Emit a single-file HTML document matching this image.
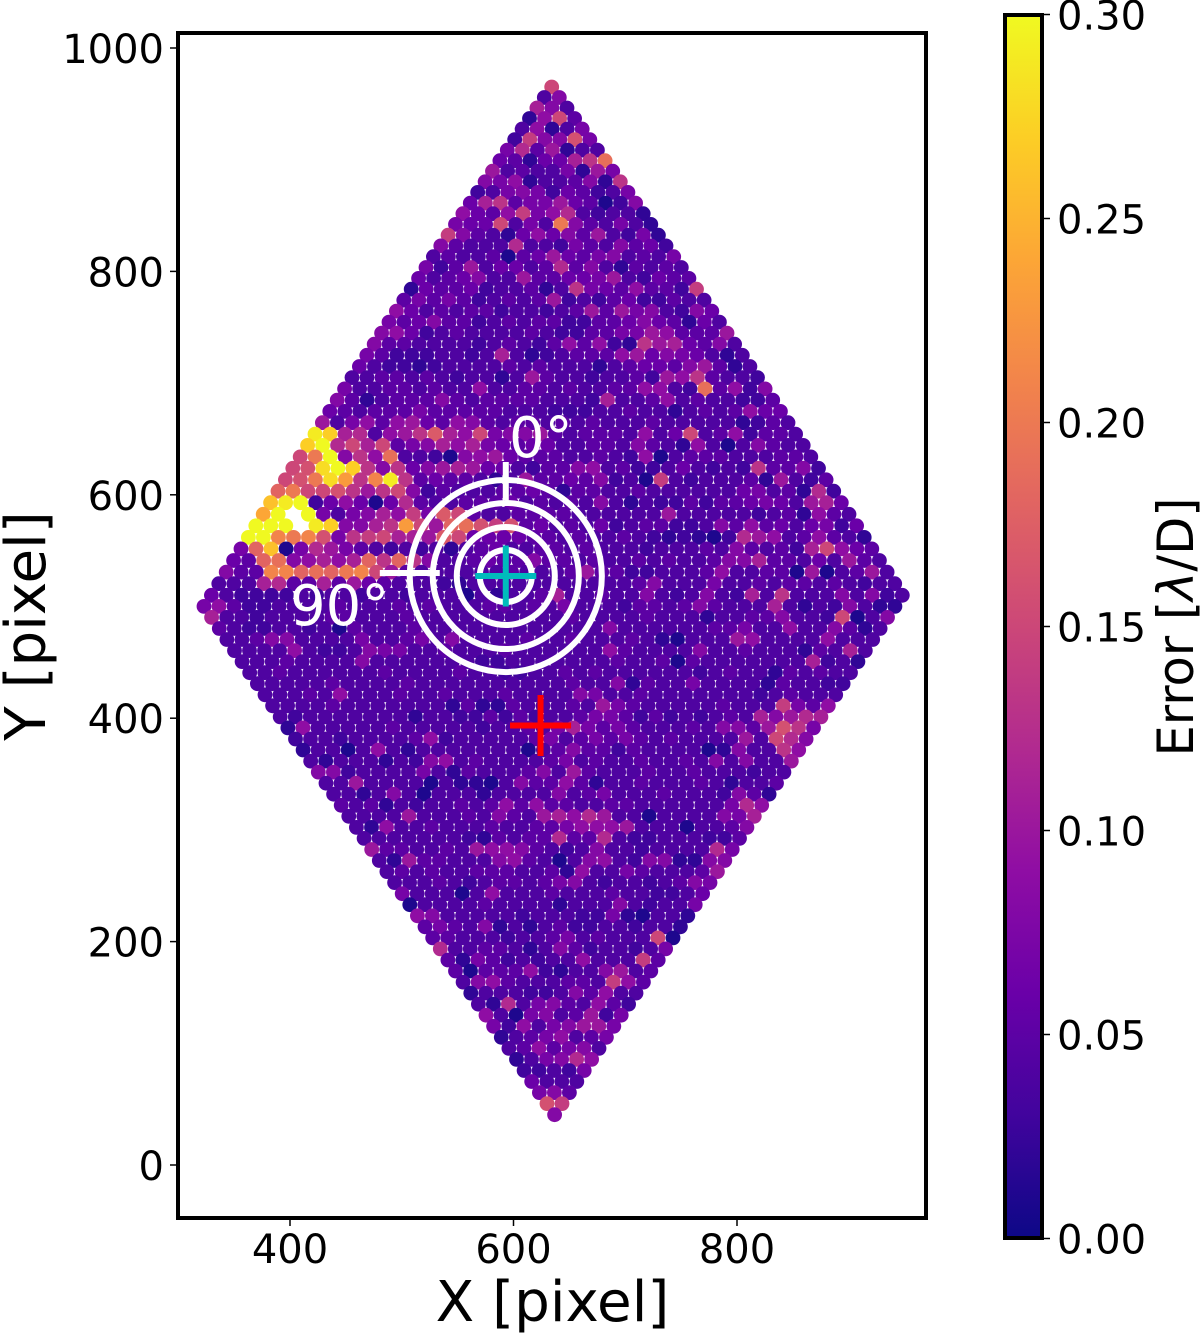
<!DOCTYPE html>
<html lang="en">
<head>
<meta charset="utf-8">
<title>Error map</title>
<style>
html,body{margin:0;padding:0;background:#fff;}
svg{display:block;font-family:"DejaVu Sans","Liberation Sans",sans-serif;}
</style>
</head>
<body>
<svg id="chart" xmlns="http://www.w3.org/2000/svg" width="1200" height="1334" viewBox="0 0 1200 1334">
  <defs>
    <linearGradient id="plasma-gradient" x1="0" y1="1" x2="0" y2="0"></linearGradient>
  </defs>
  <rect x="0" y="0" width="1200" height="1334" fill="#fff"/>
  <g id="points"></g>
  <g id="overlay"></g>
  <text x="509" y="457" font-size="56" fill="#fff">0°</text>
  <text x="290" y="625" font-size="56" fill="#fff">90°</text>
  <rect x="178" y="33" width="748" height="1185" fill="none" stroke="#000" stroke-width="4"/>
  <g id="x-axis"></g>
  <g id="y-axis"></g>
  <text x="552.5" y="1321" font-size="56.3" text-anchor="middle">X [pixel]</text>
  <text transform="translate(45,626) rotate(-90)" font-size="56.3" text-anchor="middle">Y [pixel]</text>
  <rect x="1005" y="15" width="37" height="1223" fill="url(#plasma-gradient)" stroke="#000" stroke-width="4"/>
  <g id="colorbar-axis"></g>
  <text transform="translate(1193,627) rotate(-90)" font-size="49.5" text-anchor="middle">Error [<tspan font-style="italic">λ</tspan>/D]</text>
</svg>
<script>
// Axis ticks
const xTicks = [400, 600, 800];
const yTicks = [0, 200, 400, 600, 800, 1000];
const colorTicks = [0, 0.05, 0.10, 0.15, 0.20, 0.25, 0.30];
const colorTickLabels = ["0.00", "0.05", "0.10", "0.15", "0.20", "0.25", "0.30"];
const colorMax = 0.30;

// Overlay markers, in detector pixels
const fieldCentre = [593.1, 527.3];
const ringRadii = [23.3, 43.9, 65.4, 86];
const starMarker = [624.2, 393.5];

// Error per lenslet in units of 0.01 lambda/D, one array per horizontal lattice row, top to bottom.
// null = no marker visible at that lattice site.
const errorRows = [
[15],
[4,8],
[11,8,4],
[2,9,15,5],
[4,9,2,4,7],
[3,14,8,8,16,7],
[7,12,5,10,2,4,4],
[6,5,2,6,6,11,13,19],
[10,4,5,4,4,7,2,10,7],
[8,7,9,2,4,4,5,8,2,13],
[3,4,7,8,7,3,6,5,3,4,7],
[6,11,13,5,7,7,10,6,5,1,3,8],
[9,6,5,9,14,7,9,12,4,3,4,4,2],
[7,6,6,15,4,7,4,20,8,5,4,7,4,2],
[14,8,5,4,2,6,9,6,8,5,10,4,3,7,2],
[8,5,4,4,4,12,4,4,3,7,5,4,8,5,6,3],
[4,5,4,4,5,1,5,6,10,6,5,7,8,4,5,4,7],
[7,3,5,10,4,6,6,4,5,12,5,8,4,2,5,4,5,4],
[6,4,5,6,8,4,4,10,5,5,6,6,7,10,4,3,6,5,5],
[2,6,5,5,6,3,4,4,5,2,4,13,7,6,5,9,5,5,3,14],
[5,7,5,7,5,3,4,5,4,5,10,3,4,3,5,6,3,3,5,4,4],
[9,6,4,5,4,5,5,3,4,4,3,4,5,10,5,10,7,8,4,3,8,6],
[7,5,6,8,5,5,3,4,5,4,5,5,3,3,5,5,6,8,6,5,2,6,4],
[8,9,6,3,4,5,4,4,4,4,5,4,3,3,5,5,7,7,10,9,5,5,5,10],
[8,5,5,4,4,4,4,3,4,5,4,3,5,9,5,9,3,2,13,10,11,6,5,8,4],
[7,5,3,3,3,4,4,3,4,11,4,2,3,4,5,5,5,9,10,6,8,7,6,4,2,4],
[6,4,3,3,2,3,4,4,4,4,5,4,5,4,4,4,2,4,5,6,6,5,8,10,5,2,4],
[4,4,5,5,4,5,4,3,4,4,2,4,10,5,4,4,3,4,4,5,3,10,9,13,5,4,4,3],
[7,4,4,5,5,4,5,4,4,9,4,4,5,5,4,5,4,4,5,5,9,9,4,3,19,5,9,3,8],
[8,5,2,4,5,5,5,8,5,4,5,5,5,5,4,4,4,3,11,4,4,5,9,4,5,4,4,3,3,5],
[6,5,4,5,5,5,7,5,5,5,5,5,4,4,4,3,3,3,4,4,5,4,4,2,4,5,4,5,9,6,6],
[10,4,7,9,5,9,10,6,5,9,8,5,4,5,5,4,5,4,5,4,4,4,5,4,4,4,4,4,2,3,5,4],
[29,27,11,12,4,9,10,13,17,11,9,15,7,8,8,10,5,4,5,5,5,4,9,4,6,15,4,5,9,3,5,5,4],
[27,30,12,15,11,15,5,7,8,11,9,11,7,6,5,6,6,4,4,5,5,4,8,5,4,2,9,4,1,4,8,5,4,4],
[15,20,30,8,13,9,19,4,4,3,1,8,9,10,6,5,5,5,4,4,5,4,3,9,1,4,5,5,5,4,4,4,5,5,4],
[15,16,28,30,27,13,8,13,6,8,10,11,10,6,6,4,3,5,5,8,9,4,5,3,3,4,6,4,3,4,3,13,5,5,8,3],
[15,16,20,28,23,13,21,29,13,5,6,5,5,4,2,4,10,5,5,6,5,8,3,4,1,14,4,3,4,4,4,5,2,10,4,3,5],
[18,20,15,15,16,13,10,13,15,8,3,5,4,4,4,5,5,6,5,2,5,5,4,4,5,4,4,4,4,4,4,6,7,4,5,2,12,3],
[26,29,30,3,6,9,6,1,6,12,5,4,4,5,5,5,6,4,5,4,5,4,8,4,2,4,3,3,5,3,5,5,6,7,6,4,10,11,6],
[24,30,null,30,7,4,7,8,11,9,14,7,17,15,5,4,4,5,5,5,5,4,4,4,4,4,4,10,4,4,4,4,4,3,4,5,2,9,5,4],
[30,30,30,null,29,27,8,8,11,13,23,15,10,18,19,16,14,16,5,6,4,5,4,6,3,4,5,5,3,3,4,8,5,9,5,6,4,6,7,3,6],
[30,30,21,20,21,16,7,13,14,15,11,11,10,17,15,6,6,6,6,5,5,4,5,4,4,5,4,3,2,3,2,1,3,12,10,9,4,5,9,5,4,2],
[7,18,26,1,7,12,10,7,5,4,3,4,3,4,2,4,5,6,4,4,5,5,4,5,4,4,4,3,4,4,4,5,4,8,5,4,5,3,11,15,9,6,5],
[6,5,18,19,8,9,11,9,11,18,13,18,13,8,4,4,5,6,5,5,8,5,5,4,5,4,4,5,4,5,4,4,5,8,8,11,5,5,4,6,4,10,5,4],
[8,5,5,21,21,18,19,18,20,21,15,10,5,4,4,4,4,4,4,5,4,4,4,5,10,5,5,3,3,4,4,4,5,9,4,4,5,5,1,10,1,4,5,10,4],
[4,4,4,11,12,5,5,11,5,10,6,5,4,4,4,3,2,4,4,4,4,4,4,4,4,4,4,4,5,8,4,4,4,7,4,4,5,4,5,5,4,5,4,3,4,4],
[6,4,3,3,3,3,4,3,4,4,3,4,4,3,4,4,4,1,4,2,4,4,5,11,4,4,5,4,4,8,4,3,4,8,4,3,11,4,13,4,4,4,8,4,8,3,4],
[7,9,5,3,3,4,4,4,4,5,4,4,4,5,4,5,4,4,4,5,5,4,5,4,7,4,4,4,3,5,5,4,5,8,5,4,4,4,11,4,2,4,3,8,4,2,2],
[11,4,4,3,4,4,4,4,5,5,4,4,4,5,4,4,4,4,4,4,4,4,4,4,5,4,4,4,4,5,4,4,4,2,4,4,5,5,8,4,4,3,15,1,4,8],
[5,4,3,3,4,4,3,4,1,5,4,4,4,5,4,4,4,4,4,4,4,4,4,4,4,4,8,4,4,4,4,4,4,5,5,7,4,4,9,4,4,8,5,2,4],
[4,4,5,8,8,4,4,4,4,7,4,4,5,7,4,8,4,4,4,4,5,4,4,5,4,4,4,5,4,2,1,4,4,4,10,9,4,4,4,4,9,4,4,4],
[4,4,4,4,9,4,3,3,4,8,7,7,4,4,5,4,4,4,5,4,4,4,4,4,4,9,5,4,4,4,4,8,4,4,5,4,4,4,2,5,4,11,4],
[4,4,4,5,4,4,4,4,8,4,4,4,4,4,4,4,3,3,4,4,4,4,4,4,4,5,4,4,5,1,5,4,4,4,4,4,4,4,11,3,4,2],
[4,4,5,4,4,4,4,4,4,5,4,4,4,4,5,4,4,3,3,4,4,5,4,5,4,4,4,4,4,4,3,4,5,4,4,2,5,4,5,4,4],
[4,4,4,4,4,5,4,4,4,4,5,4,4,4,4,4,4,4,4,4,4,5,4,4,8,2,5,4,4,7,4,4,4,4,2,5,4,4,3,3],
[4,4,4,5,4,9,4,4,4,5,4,4,5,4,4,4,5,4,4,4,4,8,7,4,4,5,4,4,4,4,4,4,4,3,4,5,4,4,4],
[4,4,4,4,5,4,4,4,4,4,4,4,2,5,2,2,5,4,4,4,5,4,10,7,5,4,4,4,4,4,5,4,4,4,14,7,5,9],
[4,3,4,4,4,4,4,4,4,2,4,4,3,3,5,3,5,3,4,4,5,7,7,5,3,5,3,4,3,4,5,4,11,8,10,12,11],
[2,9,4,4,4,4,4,5,4,4,4,4,4,3,4,4,5,4,7,11,7,5,7,5,4,4,4,5,4,8,8,5,10,16,13,7],
[3,4,4,3,4,4,4,4,5,9,3,4,4,4,4,4,5,7,4,5,7,5,7,5,4,5,4,4,4,4,10,4,15,12,8],
[2,4,4,1,4,9,4,2,4,4,4,4,4,4,4,1,4,5,8,5,5,3,5,4,4,4,4,1,2,8,4,4,13,9],
[4,2,4,4,4,2,4,3,8,9,4,5,4,4,4,4,5,7,4,5,4,4,5,4,4,5,4,8,4,8,4,4,10],
[8,8,3,4,4,4,4,7,4,2,5,4,4,4,5,8,4,10,5,4,4,4,5,4,4,5,4,4,4,3,4,4],
[4,4,10,4,4,4,4,1,4,2,2,1,4,8,5,5,9,5,2,4,4,5,4,4,4,5,4,2,4,4,5],
[4,4,2,4,8,4,1,4,4,4,2,4,4,4,4,8,4,5,7,4,4,4,5,4,4,4,3,8,5,2],
[5,4,5,2,4,3,4,4,5,4,5,9,5,9,5,5,4,4,5,5,4,4,4,4,4,4,7,12,9],
[4,4,4,4,10,4,4,4,5,4,8,5,4,10,11,9,12,10,4,4,1,4,4,4,4,8,7,11],
[4,2,9,4,4,5,4,4,4,5,4,4,5,5,7,9,9,9,10,4,4,4,1,4,4,5,8],
[4,4,4,4,4,4,4,3,2,5,4,5,5,12,5,5,12,4,3,3,4,4,4,3,3,5],
[10,5,5,4,4,5,4,10,9,9,8,5,4,3,4,8,4,4,3,4,4,4,4,12,7],
[4,2,10,5,5,4,4,4,8,9,5,4,1,4,8,9,4,3,8,8,2,2,8,8],
[4,5,4,5,4,4,5,5,5,4,4,5,2,9,4,4,7,5,4,4,4,5,10],
[4,4,4,5,4,3,4,5,5,4,5,7,8,4,3,4,4,3,4,5,8,7],
[7,4,4,4,1,4,9,4,4,4,5,4,4,4,5,4,4,3,3,4,6],
[1,4,4,4,4,5,4,4,4,4,2,4,4,4,8,4,3,4,4,7],
[9,8,4,4,4,4,4,3,4,4,4,3,3,7,2,1,4,4,2],
[5,7,5,4,8,2,4,2,4,5,3,3,4,4,3,4,4,2],
[5,5,4,4,4,3,4,4,5,7,4,5,4,4,4,15,1],
[12,4,4,5,5,4,2,4,8,5,3,4,4,3,4,7],
[5,2,7,5,3,4,3,4,4,9,4,4,4,14,5],
[5,1,5,5,5,9,3,2,4,4,8,10,4,5],
[4,8,9,5,4,4,4,5,5,4,14,9,5],
[2,4,4,4,3,3,4,8,5,9,4,4],
[4,2,12,4,7,8,5,4,9,5,3],
[9,4,1,7,8,4,5,10,3,7],
[7,3,9,4,7,8,10,10,7],
[2,4,5,7,9,4,5,7],
[4,5,9,5,7,8,4],
[2,4,7,8,12,9],
[3,3,4,3,7],
[6,4,4,4],
[7,8,5],
[16,14],
[8]
];

// Plasma colormap anchors
const plasmaStops = ["#0d0887","#41049d","#6a00a8","#8f0da4","#b12a90","#cc4778","#e16462","#f2844b","#fca636","#fcce25","#f0f921"];

// Axis functions
function xScale(v) { return 290 + (v - 400) * 1.1175; }
function yScale(v) { return 1165 - v * 1.117; }
function colorScale(v) { return 1238.5 - (v / colorMax) * 1224; }

const NS = "http://www.w3.org/2000/svg";
function make(tag, attrs, parent) {
  const el = document.createElementNS(NS, tag);
  for (const key in attrs) el.setAttribute(key, attrs[key]);
  parent.appendChild(el);
  return el;
}
function hexToRgb(h) {
  return [parseInt(h.slice(1, 3), 16), parseInt(h.slice(3, 5), 16), parseInt(h.slice(5, 7), 16)];
}
function plasma(t) {
  const c = Math.max(0, Math.min(1, t)) * (plasmaStops.length - 1);
  const a = Math.min(Math.floor(c), plasmaStops.length - 2);
  const f = c - a;
  const p = hexToRgb(plasmaStops[a]);
  const q = hexToRgb(plasmaStops[a + 1]);
  return "rgb(" + [0, 1, 2].map(function (n) { return Math.round(p[n] + (q[n] - p[n]) * f); }).join(",") + ")";
}

// Gradient for the colorbar
const gradient = document.getElementById("plasma-gradient");
plasmaStops.forEach(function (color, n) {
  make("stop", { offset: n / (plasmaStops.length - 1), "stop-color": color }, gradient);
});

// Lenslet lattice geometry, in detector pixels
const latticeOrigin = { x: 634.2, y: 965.1 };
const stepDownLeftX = -6.62;
const stepDownRightX = 6.82;
const rowStepY = 9.893;
const rowBowY = 7.16;
const maxI = 47;

const pointsLayer = document.getElementById("points");
errorRows.forEach(function (row, k) {
  const iStart = Math.min(k, maxI);
  const jStart = k - iStart;
  row.forEach(function (value, m) {
    if (value === null) return;
    const i = iStart - m;
    const j = jStart + m;
    const dataX = latticeOrigin.x + i * stepDownLeftX + j * stepDownRightX;
    const bow = rowBowY * Math.sin(Math.PI * Math.min(k, 46) / 46);
    const dataY = latticeOrigin.y - k * rowStepY + bow;
    const dot = make("circle", { cx: xScale(dataX).toFixed(1), cy: yScale(dataY).toFixed(1), r: 7.4, fill: plasma(value * 0.01 / colorMax) }, pointsLayer);
    
    
  });
});

// Rings, orientation ticks and crosses
const overlay = document.getElementById("overlay");
const cx = xScale(fieldCentre[0]);
const cy = yScale(fieldCentre[1]);
ringRadii.forEach(function (radius) {
  const ring = make("circle", { cx: cx, cy: cy, r: radius * 1.117, fill: "none", stroke: "#fff", "stroke-width": 6 }, overlay);
  
  
});
const tick0 = make("line", { x1: cx, y1: cy - 114, x2: cx, y2: cy - 76, stroke: "#fff", "stroke-width": 6 }, overlay);


const tick90 = make("line", { x1: cx - 126, y1: cy - 3, x2: cx - 66, y2: cy - 3, stroke: "#fff", "stroke-width": 6 }, overlay);



function drawCross(px, py, color, label) {
  const h = make("line", { x1: px - 30.5, y1: py, x2: px + 30.5, y2: py, stroke: color, "stroke-width": 6 }, overlay);
  
  
  const v = make("line", { x1: px, y1: py - 30.5, x2: px, y2: py + 30.5, stroke: color, "stroke-width": 6 }, overlay);
  
  
}
drawCross(cx, cy, "#00bcbc", "centre-cross");
drawCross(xScale(starMarker[0]), yScale(starMarker[1]), "#ff0000", "star-cross");

// X axis
const xAxis = document.getElementById("x-axis");
xTicks.forEach(function (tick) {
  const px = xScale(tick);
  const mark = make("line", { x1: px, y1: 1220, x2: px, y2: 1226, stroke: "#000", "stroke-width": 1.5 }, xAxis);
  
  
  const label = make("text", { x: px, y: 1263, "font-size": 40, "text-anchor": "middle" }, xAxis);
  label.textContent = String(tick);
  
  
});

// Y axis
const yAxis = document.getElementById("y-axis");
yTicks.forEach(function (tick) {
  const py = yScale(tick);
  const mark = make("line", { x1: 170, y1: py, x2: 176, y2: py, stroke: "#000", "stroke-width": 1.5 }, yAxis);
  
  
  const label = make("text", { x: 164, y: py + 15, "font-size": 40, "text-anchor": "end" }, yAxis);
  label.textContent = String(tick);
  
  
});

// Colorbar axis
const colorAxis = document.getElementById("colorbar-axis");
colorTicks.forEach(function (tick, n) {
  const py = colorScale(tick);
  const mark = make("line", { x1: 1044, y1: py, x2: 1050, y2: py, stroke: "#000", "stroke-width": 1.5 }, colorAxis);
  
  
  const label = make("text", { x: 1057, y: py + 15, "font-size": 40 }, colorAxis);
  label.textContent = colorTickLabels[n];
  
  
});
</script>
</body>
</html>
